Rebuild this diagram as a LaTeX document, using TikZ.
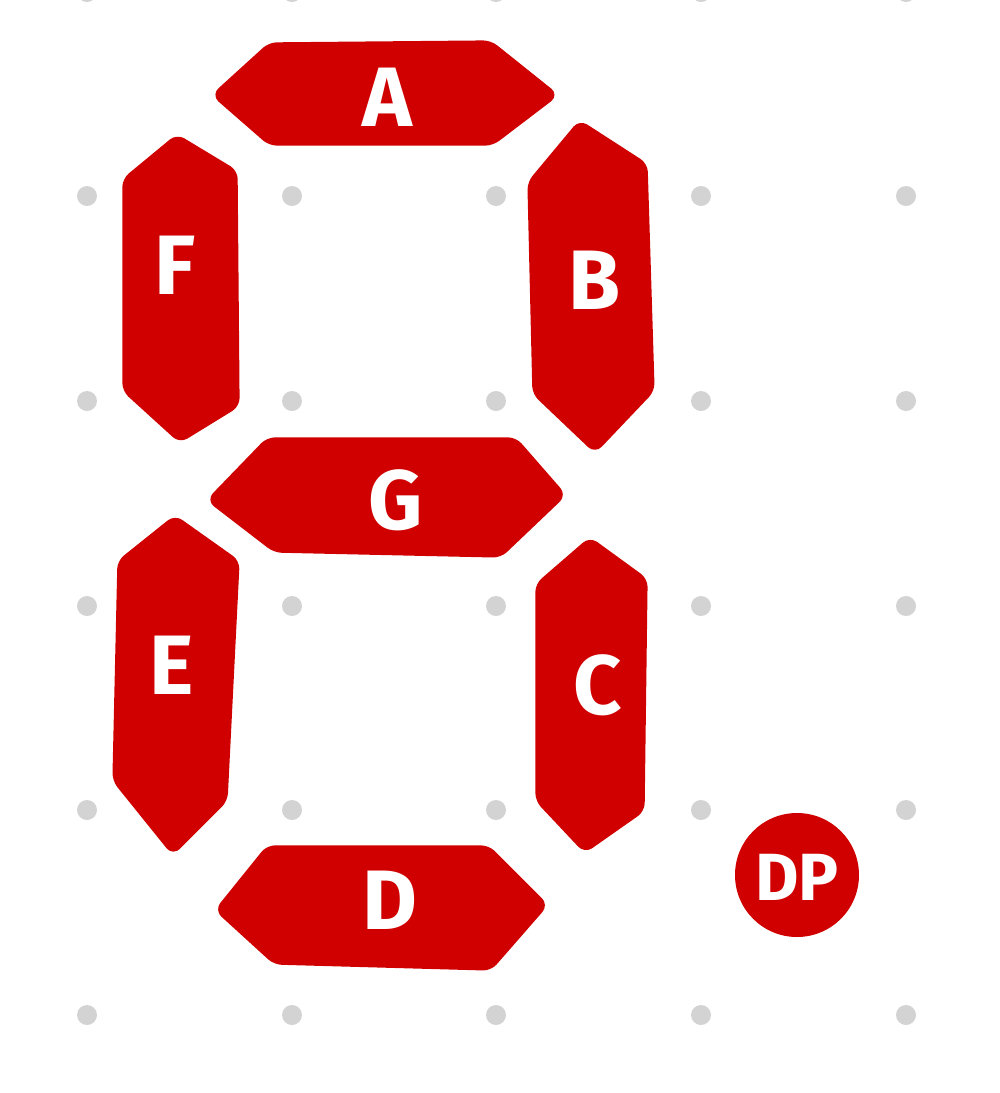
\documentclass[tikz,border=0pt]{standalone}
\usepackage{fontspec}
\setmainfont{Fira Sans}
\definecolor{segred}{RGB}{208,0,0}
\definecolor{dotgray}{RGB}{211,211,211}
\tikzset{
  seg/.style={fill=segred, draw=segred, line width=3pt, line join=round, rounded corners=4pt},
  lbl/.style={text=white, font=\fontsize{48}{48}\selectfont\bfseries, inner sep=0pt},
  griddot/.style={fill=dotgray, draw=none}
}
\begin{document}
\begin{tikzpicture}[x=0.02cm,y=-0.02cm]
\useasboundingbox (0,0) rectangle (1000,1093);
% grid dots
\foreach \gx in {87,292,496,701,906}
  \foreach \gy in {-8,196,401,606,810,1015}
    \fill[griddot] (\gx,\gy) circle (10);
% segments
\path[seg] (215,95) -- (270,45) -- (490,43) -- (555,95) -- (492,143) -- (270,143) -- cycle;
\path[seg] (177,137) -- (235,172) -- (237,405) -- (180,440) -- (125,390) -- (125,180) -- cycle;
\path[seg] (580,123) -- (645,165) -- (652,390) -- (595,450) -- (535,393) -- (530,183) -- cycle;
\path[seg] (210,500) -- (268,440) -- (515,440) -- (563,495) -- (500,555) -- (275,550) -- cycle;
\path[seg] (175,518) -- (237,562) -- (225,800) -- (173,852) -- (115,780) -- (120,562) -- cycle;
\path[seg] (590,540) -- (645,580) -- (642,810) -- (585,850) -- (538,800) -- (538,585) -- cycle;
\path[seg] (218,910) -- (268,848) -- (488,848) -- (545,905) -- (490,968) -- (275,962) -- cycle;
\fill[segred] (797,875) circle (62);
% labels
\node[lbl] (la) at (387,97) {A};
\node[lbl] (lf) at (175,265) {F};
\node[lbl] (lb) at (595,280) {B};
\node[lbl] (lg) at (396,500) {G};
\node[lbl] (le) at (172,665) {E};
\node[lbl] (lc) at (598,685) {C};
\node[lbl] (ld) at (390,900) {D};
\node[lbl, font=\fontsize{38}{38}\selectfont\bfseries] (ldp) at (797,877) {DP};
\end{tikzpicture}
\end{document}
